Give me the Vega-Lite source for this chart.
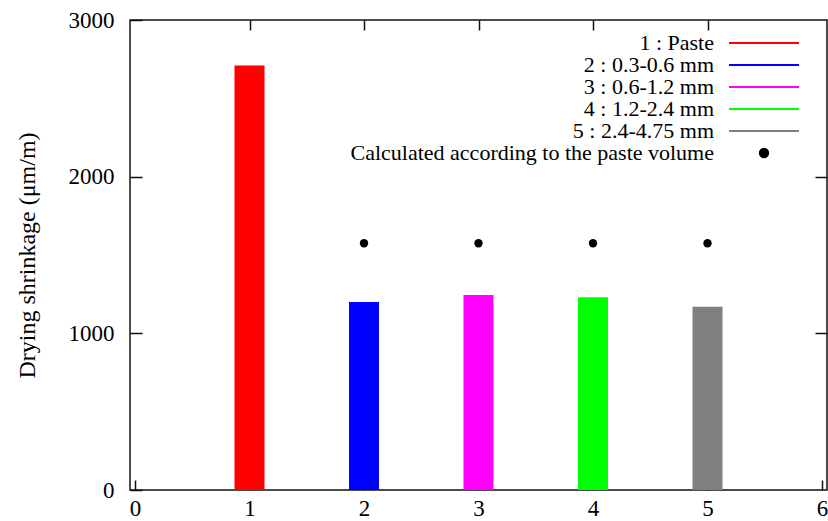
{
  "$schema": "https://vega.github.io/schema/vega-lite/v6.json",
  "width": 697,
  "height": 470,
  "autosize": "none",
  "padding": {"left": 130, "top": 20, "right": 1, "bottom": 31},
  "background": "white",
  "config": {
    "view": {"stroke": "#111", "strokeWidth": 1.5},
    "font": "Liberation Serif",
    "axis": {"grid": false, "domain": false, "labelFont": "Liberation Serif", "labelFontSize": 23, "labelColor": "black", "tickColor": "#111", "tickWidth": 1.5, "titleFont": "Liberation Serif", "titleFontWeight": "normal", "titleColor": "black"}
  },
  "datasets": {
    "bars": [
      {"x": 1, "shrinkage": 2710, "series": "1 : Paste"},
      {"x": 2, "shrinkage": 1200, "series": "2 : 0.3-0.6 mm"},
      {"x": 3, "shrinkage": 1245, "series": "3 : 0.6-1.2 mm"},
      {"x": 4, "shrinkage": 1230, "series": "4 : 1.2-2.4 mm"},
      {"x": 5, "shrinkage": 1170, "series": "5 : 2.4-4.75 mm"}
    ],
    "calc": [
      {"x": 2, "shrinkage": 1575, "series": "Calculated according to the paste volume"},
      {"x": 3, "shrinkage": 1575, "series": "Calculated according to the paste volume"},
      {"x": 4, "shrinkage": 1575, "series": "Calculated according to the paste volume"},
      {"x": 5, "shrinkage": 1575, "series": "Calculated according to the paste volume"}
    ]
  },
  "resolve": {"axis": {"x": "independent", "y": "independent"}},
  "layer": [
    {
      "data": {"name": "bars"},
      "mark": {"type": "bar", "size": 30},
      "encoding": {
        "x": {"field": "x", "type": "quantitative", "scale": {"domain": [0, 6], "nice": false, "zero": false},
              "axis": {"title": null, "values": [0, 1, 2, 3, 4, 5, 6], "format": "d", "tickSize": -10, "labelPadding": 17, "labelFlush": false}},
        "y": {"field": "shrinkage", "type": "quantitative", "scale": {"domain": [0, 3000], "nice": false},
              "axis": {"title": "Drying shrinkage (μm/m)", "titleFontSize": 24, "titlePadding": 29, "values": [0, 1000, 2000, 3000], "format": "d", "tickSize": -12, "labelPadding": 28, "labelFlush": false}},
        "color": {
          "field": "series", "type": "nominal",
          "scale": {
            "domain": ["1 : Paste", "2 : 0.3-0.6 mm", "3 : 0.6-1.2 mm", "4 : 1.2-2.4 mm", "5 : 2.4-4.75 mm", "Calculated according to the paste volume"],
            "range": ["#ff0000", "#0000ff", "#ff00ff", "#00ff00", "#808080", "#000000"]
          },
          "legend": {
            "title": null, "orient": "none", "legendX": 623, "legendY": 12, "padding": 0,
            "labelFont": "Liberation Serif", "labelFontSize": 22, "labelColor": "black", "labelAlign": "right", "labelOffset": -61, "labelLimit": 0,
            "symbolType": "M-3.5,0H3.5", "symbolSize": 400, "symbolStrokeWidth": 2, "rowPadding": 0,
            "encode": {
              "symbols": {
                "update": {
                  "shape": {"signal": "datum.value === 'Calculated according to the paste volume' ? 'circle' : 'M-3.5,0H3.5'"},
                  "size": {"signal": "datum.value === 'Calculated according to the paste volume' ? 70 : 400"},
                  "fill": {"signal": "datum.value === 'Calculated according to the paste volume' ? 'black' : 'transparent'"},
                  "stroke": {"scale": "color", "field": "value"},
                  "strokeWidth": {"value": 2},
                  "opacity": {"value": 1}
                }
              }
            }
          }
        }
      }
    },
    {
      "data": {"name": "calc"},
      "mark": {"type": "point", "filled": true, "size": 70, "opacity": 1},
      "encoding": {
        "x": {"field": "x", "type": "quantitative", "axis": {"orient": "top", "title": null, "labels": false, "values": [1, 2, 3, 4, 5], "tickSize": -10}},
        "y": {"field": "shrinkage", "type": "quantitative", "axis": {"orient": "right", "title": null, "labels": false, "values": [1000, 2000], "tickSize": -12}},
        "color": {"field": "series", "type": "nominal"}
      }
    }
  ]
}
